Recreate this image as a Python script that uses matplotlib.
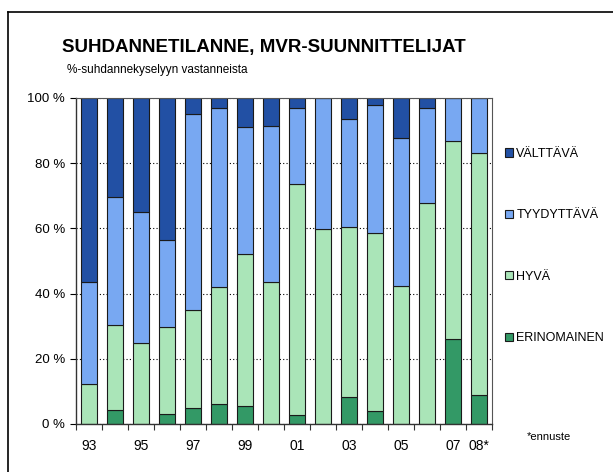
import matplotlib
matplotlib.use('Agg')
import matplotlib.pyplot as plt
from matplotlib.lines import Line2D
import numpy as np

plt.rcParams['font.family'] = ['Liberation Sans', 'DejaVu Sans']

# data (% of respondents)
vuodet = ['93', '94', '95', '96', '97', '98', '99', '00', '01', '02', '03', '04', '05', '06', '07', '08*']
nakyvat = ['93', '95', '97', '99', '01', '03', '05', '07', '08*']
erinomainen = [0, 4.2, 0, 3.0, 4.9, 6.1, 5.5, 0, 2.9, 0, 8.2, 4.1, 0, 0, 26.0, 9.0]
hyva = [12.4, 26.2, 24.8, 26.8, 30.1, 35.9, 46.6, 43.5, 70.6, 59.9, 52.2, 54.5, 42.2, 67.7, 60.9, 74.1]
tyydyttava = [31.2, 39.1, 40.1, 26.6, 60.0, 54.8, 39.0, 47.9, 23.4, 40.1, 33.3, 39.3, 45.5, 29.1, 13.1, 16.9]
valttava = [56.4, 30.5, 35.1, 43.6, 5.0, 3.2, 8.9, 8.6, 3.1, 0, 6.3, 2.1, 12.3, 3.2, 0, 0]

sarjat = [erinomainen, hyva, tyydyttava, valttava]
nimet = ['ERINOMAINEN', 'HYVÄ', 'TYYDYTTÄVÄ', 'VÄLTTÄVÄ']
varit = ['#339966', '#aae5b8', '#78a8f2', '#2250a4']

fig = plt.figure(figsize=(6.13, 4.72), dpi=100)
ax = fig.add_axes([76/613, 1-424/472, (492-76)/613, (424-98)/472])

x = np.arange(len(vuodet))
pohja = np.zeros(len(vuodet))
for arvot, nimi, vari in zip(sarjat, nimet, varit):
    ax.bar(x, arvot, bottom=pohja, width=0.62, color=vari,
           edgecolor='#1a1a1a', linewidth=0.8, label=nimi)
    pohja = pohja + np.array(arvot)

ax.set_xlim(-0.5, len(vuodet) - 0.5)
ax.set_ylim(0, 100)
ax.set_yticks([0, 20, 40, 60, 80, 100])
ax.set_yticklabels(['0 %', '20 %', '40 %', '60 %', '80 %', '100 %'], fontsize=9.5)
ax.yaxis.grid(True, linestyle=(0, (1, 2)), color='black', linewidth=0.8)
ax.set_axisbelow(True)

# ticks between categories, labels under bars
ax.set_xticks(np.arange(-0.5, len(vuodet), 1.0))
ax.set_xticklabels([])
ax.set_xticks(x, minor=True)
ax.set_xticklabels([v if v in nakyvat else '' for v in vuodet], minor=True, fontsize=10)
ax.tick_params(axis='x', which='major', length=4, direction='out', color='#333333')
ax.tick_params(axis='x', which='minor', length=0, pad=11)
ax.tick_params(axis='y', length=4, direction='out', pad=4)

for s in ['left', 'bottom']:
    ax.spines[s].set_color('#333333')
    ax.spines[s].set_linewidth(1.0)
for s in ['top', 'right']:
    ax.spines[s].set_color('#555555')
    ax.spines[s].set_linewidth(0.8)

fig.text(62/613, 1-47.5/472, 'SUHDANNETILANNE, MVR-SUUNNITTELIJAT',
         fontsize=13.5, fontweight='bold', va='center', ha='left')
fig.text(67/613, 1-70/472, '%-suhdannekyselyyn vastanneista',
         fontsize=8.5, va='center', ha='left')
fig.text(527/613, 1-437/472, '*ennuste', fontsize=8, va='center', ha='left')

kahvat, tekstit = ax.get_legend_handles_labels()
fig.legend(kahvat[::-1], tekstit[::-1], loc='center left',
           bbox_to_anchor=(505/613, 1-246/472), frameon=False, fontsize=9,
           handlelength=0.65, handleheight=0.65, handletextpad=0.25,
           labelspacing=3.95, borderpad=0, borderaxespad=0)

# outer frame
fig.add_artist(Line2D([8/613, 8/613], [0, 1-12/472], color='black', linewidth=1.2,
                      transform=fig.transFigure))
fig.add_artist(Line2D([8/613, 1], [1-12/472, 1-12/472], color='black', linewidth=1.2,
                      transform=fig.transFigure))

fig.savefig('out.png', dpi=100)
